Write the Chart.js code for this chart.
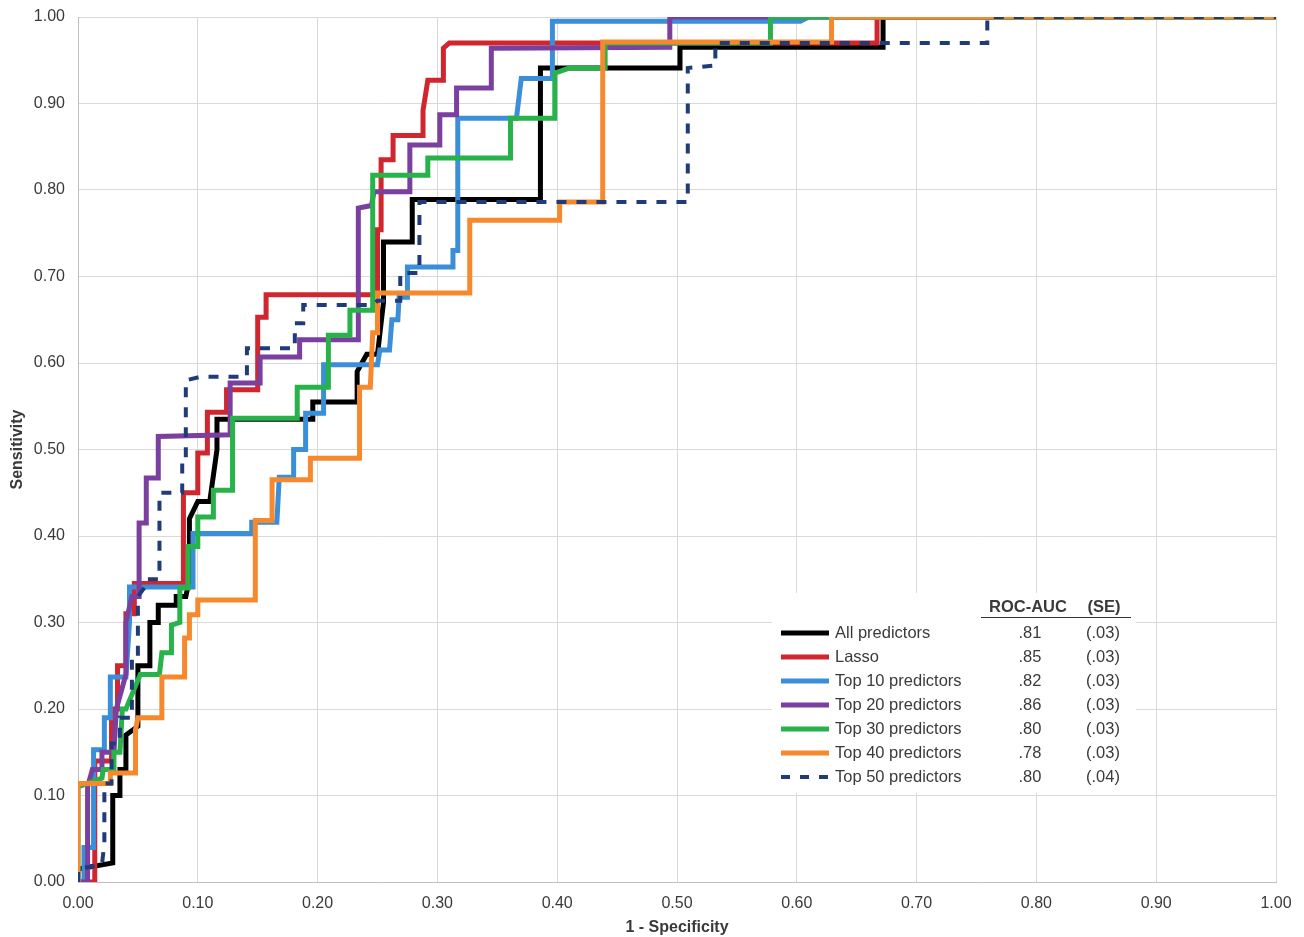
<!DOCTYPE html>
<html>
<head>
<meta charset="utf-8">
<script src="https://cdn.jsdelivr.net/npm/chart.js@4/dist/chart.umd.min.js"></script>
<style>
html,body{margin:0;padding:0;background:#fff;}
#wrap{width:1304px;height:937px;position:relative;}
</style>
</head>
<body>
<div id="wrap"><canvas id="c" width="1304" height="937"></canvas></div>
<script>
// ---- Data ----
const seriesLabels = ['All predictors','Lasso','Top 10 predictors','Top 20 predictors','Top 30 predictors','Top 40 predictors','Top 50 predictors'];
const aucValues = ['.81','.85','.82','.86','.80','.78','.80'];
const seValues = ['(.03)','(.03)','(.03)','(.03)','(.03)','(.03)','(.04)'];
const tickValues = [0,0.1,0.2,0.3,0.4,0.5,0.6,0.7,0.8,0.9,1.0];

const allPredictors = [[0,0],[0,0.015],[0.029,0.022],[0.029,0.10],[0.035,0.10],[0.035,0.13],[0.04,0.13],[0.04,0.17],[0.05,0.18],[0.05,0.25],[0.06,0.25],[0.06,0.30],[0.067,0.30],[0.067,0.32],[0.082,0.32],[0.082,0.33],[0.09,0.33],[0.093,0.35],[0.093,0.42],[0.10,0.44],[0.11,0.44],[0.116,0.50],[0.116,0.535],[0.196,0.535],[0.196,0.555],[0.233,0.555],[0.233,0.59],[0.241,0.61],[0.25,0.61],[0.255,0.67],[0.255,0.74],[0.279,0.74],[0.279,0.789],[0.386,0.789],[0.386,0.941],[0.5025,0.941],[0.5025,0.965],[0.672,0.965],[0.672,1.0],[1,1]];
const lasso = [[0,0],[0.014,0.0],[0.014,0.14],[0.028,0.14],[0.028,0.2],[0.033,0.2],[0.033,0.25],[0.04,0.25],[0.04,0.31],[0.047,0.31],[0.047,0.345],[0.088,0.345],[0.088,0.45],[0.1,0.45],[0.1,0.496],[0.108,0.496],[0.108,0.543],[0.124,0.543],[0.124,0.569],[0.15,0.569],[0.15,0.653],[0.157,0.653],[0.157,0.679],[0.25,0.679],[0.25,0.754],[0.253,0.754],[0.253,0.835],[0.263,0.835],[0.263,0.863],[0.288,0.863],[0.288,0.892],[0.292,0.927],[0.305,0.927],[0.305,0.964],[0.31,0.97],[0.667,0.97],[0.667,1.0],[1,1]];
const top10 = [[0,0],[0.005,0.0],[0.005,0.04],[0.013,0.04],[0.013,0.153],[0.022,0.153],[0.022,0.19],[0.027,0.19],[0.027,0.237],[0.04,0.237],[0.043,0.30],[0.043,0.341],[0.096,0.341],[0.096,0.403],[0.145,0.403],[0.145,0.416],[0.166,0.416],[0.168,0.468],[0.18,0.468],[0.18,0.5],[0.19,0.5],[0.19,0.542],[0.205,0.542],[0.205,0.598],[0.25,0.598],[0.252,0.615],[0.26,0.615],[0.262,0.65],[0.267,0.65],[0.268,0.676],[0.275,0.676],[0.275,0.711],[0.313,0.711],[0.313,0.73],[0.317,0.73],[0.317,0.883],[0.366,0.883],[0.37,0.929],[0.396,0.929],[0.396,0.995],[0.603,0.995],[0.61,1.0],[1,1]];
const top20 = [[0,0],[0.008,0.0],[0.008,0.11],[0.012,0.13],[0.02,0.13],[0.02,0.15],[0.03,0.15],[0.032,0.2],[0.04,0.24],[0.04,0.3],[0.045,0.33],[0.051,0.33],[0.051,0.415],[0.057,0.415],[0.057,0.467],[0.067,0.467],[0.067,0.515],[0.127,0.517],[0.127,0.577],[0.152,0.577],[0.152,0.607],[0.185,0.607],[0.185,0.627],[0.234,0.627],[0.234,0.779],[0.245,0.782],[0.247,0.798],[0.277,0.798],[0.277,0.852],[0.302,0.852],[0.302,0.887],[0.316,0.887],[0.316,0.918],[0.345,0.918],[0.345,0.964],[0.494,0.965],[0.494,1.0],[1,1]];
const top30 = [[0,0],[0,0.11],[0.02,0.12],[0.021,0.13],[0.03,0.13],[0.03,0.15],[0.035,0.15],[0.037,0.2],[0.04,0.2],[0.052,0.24],[0.068,0.24],[0.07,0.265],[0.078,0.265],[0.078,0.297],[0.085,0.3],[0.085,0.34],[0.092,0.34],[0.092,0.388],[0.1,0.388],[0.1,0.422],[0.113,0.422],[0.113,0.453],[0.129,0.453],[0.129,0.536],[0.183,0.536],[0.183,0.572],[0.209,0.572],[0.209,0.632],[0.227,0.632],[0.227,0.661],[0.246,0.661],[0.246,0.817],[0.292,0.817],[0.292,0.837],[0.361,0.837],[0.361,0.883],[0.398,0.883],[0.398,0.935],[0.41,0.941],[0.44,0.941],[0.44,0.97],[0.578,0.97],[0.578,1.0],[1,1]];
const top40 = [[0,0],[0,0.114],[0.027,0.114],[0.027,0.126],[0.048,0.126],[0.048,0.176],[0.05,0.19],[0.07,0.19],[0.07,0.237],[0.089,0.237],[0.089,0.282],[0.093,0.282],[0.093,0.309],[0.1,0.309],[0.1,0.326],[0.148,0.326],[0.148,0.418],[0.162,0.418],[0.162,0.465],[0.194,0.465],[0.194,0.49],[0.235,0.49],[0.235,0.572],[0.244,0.572],[0.246,0.635],[0.25,0.635],[0.25,0.681],[0.327,0.681],[0.327,0.765],[0.402,0.765],[0.402,0.786],[0.438,0.786],[0.438,0.971],[0.629,0.971],[0.629,1.0],[1,1]];
const top50 = [[0,0],[0,0.015],[0.02,0.02],[0.022,0.045],[0.022,0.114],[0.028,0.114],[0.028,0.16],[0.035,0.16],[0.035,0.19],[0.045,0.19],[0.045,0.26],[0.05,0.26],[0.05,0.33],[0.058,0.345],[0.058,0.35],[0.068,0.35],[0.068,0.45],[0.087,0.45],[0.087,0.49],[0.09,0.49],[0.09,0.58],[0.102,0.584],[0.141,0.584],[0.141,0.617],[0.181,0.617],[0.181,0.646],[0.188,0.646],[0.188,0.667],[0.246,0.667],[0.25,0.672],[0.269,0.672],[0.269,0.704],[0.285,0.704],[0.285,0.786],[0.509,0.786],[0.509,0.941],[0.532,0.944],[0.532,0.97],[0.759,0.97],[0.759,1.0],[1,1]];

const seriesData = [allPredictors, lasso, top10, top20, top30, top40, top50];
const seriesColors = ['#000000','#d0262d','#3b8fd8','#7b3f9f','#27b24a','#f6892d','#1f3c78'];
const seriesDash = [[],[],[],[],[],[],[10,10]];
const seriesWidth = [5,5,5,5,5,5,4];

const FONT = '"Liberation Sans", Arial, Helvetica, sans-serif';
const TXT = '#3a3a3a';

const datasets = seriesData.map((pts, i) => ({
  label: seriesLabels[i],
  data: pts.map(p => ({x: p[0], y: p[1]})),
  borderColor: seriesColors[i],
  backgroundColor: seriesColors[i],
  borderWidth: seriesWidth[i],
  borderDash: seriesDash[i],
  pointRadius: 0,
  pointHoverRadius: 0,
  tension: 0,
  fill: false,
  showLine: true,
  order: seriesData.length - 1 - i
}));

const legendTable = {
  id: 'legendTable',
  afterDatasetsDraw(chart) {
    const ctx = chart.ctx;
    ctx.save();
    ctx.fillStyle = '#ffffff';
    ctx.fillRect(772, 593, 364, 200);
    ctx.fillStyle = TXT;
    ctx.textBaseline = 'middle';
    ctx.font = 'bold 16.5px ' + FONT;
    ctx.textAlign = 'center';
    ctx.fillText('ROC-AUC', 1028, 607);
    ctx.fillText('(SE)', 1104, 607);
    ctx.strokeStyle = '#333';
    ctx.lineWidth = 1;
    ctx.beginPath();
    ctx.moveTo(981, 617.5); ctx.lineTo(1131, 617.5);
    ctx.stroke();
    ctx.font = '16.5px ' + FONT;
    for (let i = 0; i < seriesLabels.length; i++) {
      const y = 633 + i * 24;
      ctx.strokeStyle = seriesColors[i];
      ctx.lineWidth = seriesWidth[i];
      ctx.setLineDash(i === 6 ? [9, 10] : []);
      ctx.beginPath();
      ctx.moveTo(781, y); ctx.lineTo(829, y);
      ctx.stroke();
      ctx.setLineDash([]);
      ctx.fillStyle = TXT;
      ctx.textAlign = 'left';
      ctx.fillText(seriesLabels[i], 835, y);
      ctx.textAlign = 'center';
      ctx.fillText(aucValues[i], 1030, y);
      ctx.fillText(seValues[i], 1103, y);
    }
    ctx.restore();
  }
};

new Chart(document.getElementById('c'), {
  type: 'scatter',
  data: { datasets },
  options: {
    responsive: false,
    animation: false,
    layout: { padding: { left: 0, right: 28, top: 17, bottom: 0 } },
    plugins: { legend: { display: false }, tooltip: { enabled: false } },
    scales: {
      x: {
        type: 'linear', min: 0, max: 1,
        afterBuildTicks: s => { s.ticks = tickValues.map(v => ({value: v})); },
        afterFit: s => { s.height = 55; s.paddingLeft = 0; s.paddingRight = 0; },
        grid: { color: '#d9d9d9', lineWidth: 1, drawTicks: false },
        border: { color: '#bfbfbf' },
        ticks: { padding: 12, color: TXT, font: { family: FONT, size: 16 }, callback: v => Number(v).toFixed(2), maxRotation: 0 },
        title: { display: true, text: '1 - Specificity', color: TXT, font: { family: FONT, size: 16, weight: 'bold' }, padding: { top: 0, bottom: 0 } }
      },
      y: {
        type: 'linear', min: 0, max: 1,
        afterBuildTicks: s => { s.ticks = tickValues.map(v => ({value: v})); },
        afterFit: s => { s.width = 78; s.paddingTop = 0; s.paddingBottom = 0; },
        grid: { color: '#d9d9d9', lineWidth: 1, drawTicks: false },
        border: { color: '#bfbfbf' },
        ticks: { padding: 13, color: TXT, font: { family: FONT, size: 16 }, callback: v => Number(v).toFixed(2) },
        title: { display: true, text: 'Sensitivity', color: TXT, font: { family: FONT, size: 16, weight: 'bold' }, padding: { top: 8, bottom: 0 } }
      }
    }
  },
  plugins: [legendTable]
});
</script>
</body>
</html>
